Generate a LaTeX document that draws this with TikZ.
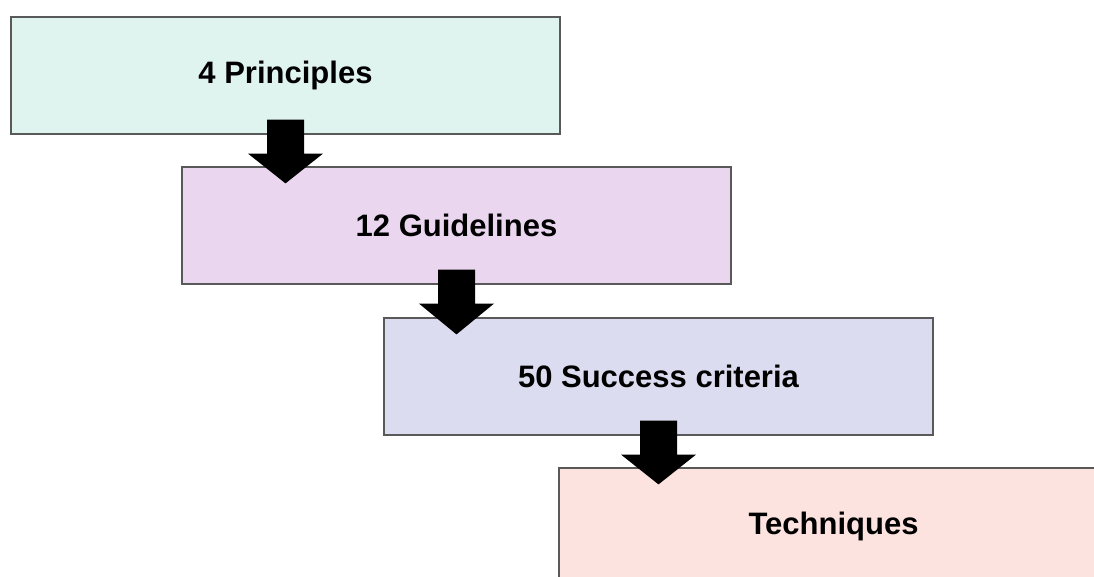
\documentclass[tikz,border=0pt]{standalone}
\usepackage{fontspec}
\setmainfont{Liberation Sans}
\begin{document}
\begin{tikzpicture}[x=1pt,y=-1pt,
  stage/.style={draw=black!65, line width=1.2pt, minimum width=549pt, minimum height=117pt,
    inner sep=0pt, font=\fontsize{31}{35}\selectfont\bfseries, text=black},
  blockarrow/.style={fill=black, draw=none}]
\useasboundingbox (0,0) rectangle (1094,577);
\definecolor{cP}{HTML}{E0F4EF}
\definecolor{cG}{HTML}{EBD6F0}
\definecolor{cS}{HTML}{DCDCF0}
\definecolor{cT}{HTML}{FDE3E0}
\begin{scope}
\clip (0,0) rectangle (1094,577);
\node[stage, fill=cP] (p) at (285.5,75.5) {4 Principles};
\node[stage, fill=cG] (g) at (456.5,225.5) {12 Guidelines};
\node[stage, fill=cS] (s) at (658.5,376.5) {50 Success criteria};
\node[stage, fill=cT] (t) at (833.5,526.5) {Techniques};
\end{scope}
\foreach \a/\b in {p/g, g/s, s/t}{
  \path ([yshift=15pt]\a.south) coordinate (top-\a)
        ([yshift=-17pt]\b.north -| \a.south) coordinate (tip-\a);
  \fill[blockarrow] ([xshift=-18.5pt]top-\a) -- ([xshift=18.5pt]top-\a)
     -- ([xshift=18.5pt,yshift=-34pt]top-\a) -- ([xshift=37.5pt,yshift=-34pt]top-\a)
     -- (tip-\a) -- ([xshift=-37.5pt,yshift=-34pt]top-\a)
     -- ([xshift=-18.5pt,yshift=-34pt]top-\a) -- cycle;
}
\end{tikzpicture}
\end{document}
